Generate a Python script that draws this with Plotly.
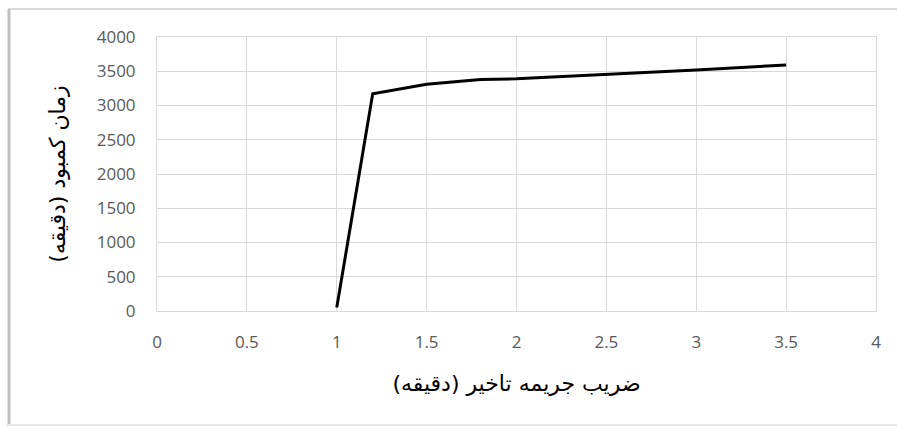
import plotly.graph_objects as go

x_vals = [1, 1.2, 1.5, 1.8, 2, 2.5, 3, 3.5]
y_vals = [50, 3170, 3310, 3380, 3390, 3450, 3520, 3590]
x_title = "ضریب جریمه تاخیر (دقیقه)"
y_title = "زمان کمبود (دقیقه)"

W, H = 897, 429
L, R, T, B = 157, 21, 37, 118
pw, ph = W - L - R, H - T - B

def px(xp):
    return (xp - L) / pw

def py(yp):
    return (H - B - yp) / ph

fig = go.Figure()
fig.add_trace(go.Scatter(x=x_vals, y=y_vals, mode="lines",
                         line=dict(color="black", width=3), showlegend=False))

fig.update_layout(
    width=W, height=H,
    margin=dict(l=L, r=R, t=T, b=B),
    paper_bgcolor="white", plot_bgcolor="white",
    font=dict(family="Open Sans, DejaVu Sans", size=17, color="#595959"),
    xaxis=dict(range=[0, 4], dtick=0.5, showgrid=True, gridcolor="#d9d9d9", gridwidth=1,
               zeroline=False, showline=True, linecolor="#d9d9d9", mirror=True,
               ticks="", ticklabelstandoff=16,
               title=dict(text=x_title, standoff=23,
                          font=dict(family="DejaVu Sans", size=22, color="black"))),
    yaxis=dict(range=[0, 4000], dtick=500, showgrid=True, gridcolor="#d9d9d9", gridwidth=1,
               zeroline=False, showline=True, linecolor="#d9d9d9", mirror=True,
               ticks="", ticklabelstandoff=17,
               title=dict(text=y_title, standoff=25,
                          font=dict(family="DejaVu Sans", size=22, color="black"))),
)

# outer chart frame
fig.add_shape(type="line", xref="paper", yref="paper",
              x0=px(8), x1=px(897), y0=py(9), y1=py(9),
              line=dict(color="#d9d9d9", width=2))
fig.add_shape(type="line", xref="paper", yref="paper",
              x0=px(9), x1=px(9), y0=py(9), y1=py(426),
              line=dict(color="#bfbfbf", width=3))
fig.add_shape(type="line", xref="paper", yref="paper",
              x0=px(8), x1=px(897), y0=py(425), y1=py(425),
              line=dict(color="#e6e6e6", width=2))

fig.write_html("out.html", config={"displayModeBar": False},
               post_script="document.body.style.margin='0';document.body.style.overflow='hidden';")
